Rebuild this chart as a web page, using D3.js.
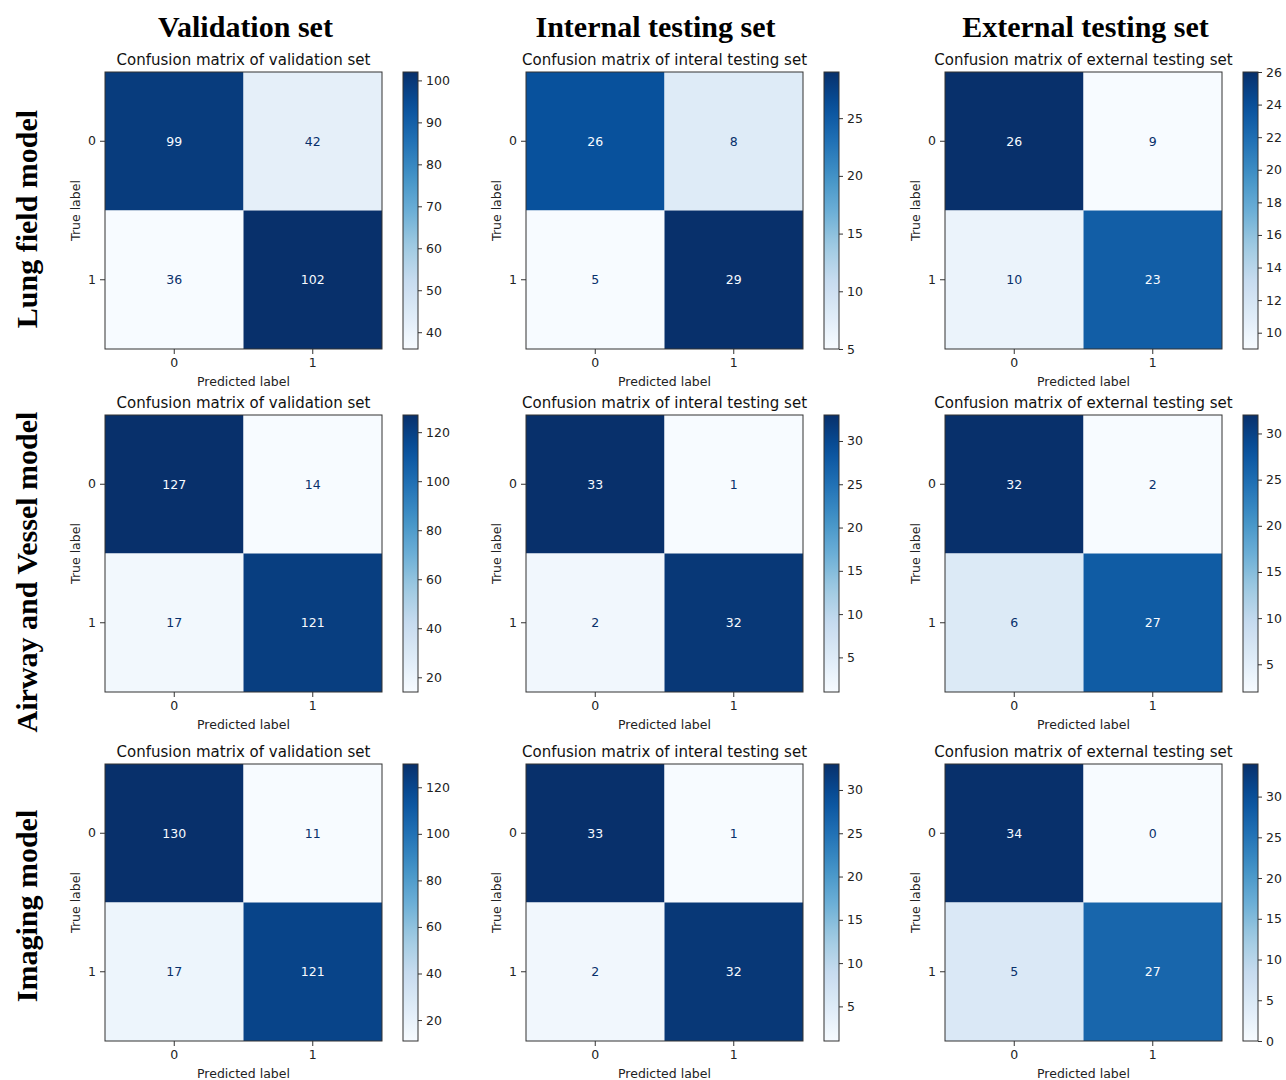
<!DOCTYPE html>
<html>
<head>
<meta charset="utf-8">
<script src="https://cdn.jsdelivr.net/npm/d3@7"></script>
<style>
  body { margin: 0; background: #fff; }
  .tick text { font-family: "DejaVu Sans", sans-serif; font-size: 12.5px; fill: #222; }
</style>
</head>
<body>
<svg id="chart" width="1286" height="1080"></svg>
<script>
// row / column headings
var rowNames = ["Lung field model", "Airway and Vessel model", "Imaging model"];
var colNames = ["Validation set", "Internal testing set", "External testing set"];
var panelTitles = ["Confusion matrix of validation set", "Confusion matrix of interal testing set", "Confusion matrix of external testing set"];
var classLabels = ["0", "1"];

// confusion matrices [true][predicted], one per column
var lungFieldCounts = [[[99, 42], [36, 102]], [[26, 8], [5, 29]], [[26, 9], [10, 23]]];
var airwayVesselCounts = [[[127, 14], [17, 121]], [[33, 1], [2, 32]], [[32, 2], [6, 27]]];
var imagingCounts = [[[130, 11], [17, 121]], [[33, 1], [2, 32]], [[34, 0], [5, 27]]];

// colorbar tick labels
var lungFieldTicks = [[40, 50, 60, 70, 80, 90, 100], [5, 10, 15, 20, 25], [10, 12, 14, 16, 18, 20, 22, 24, 26]];
var airwayVesselTicks = [[20, 40, 60, 80, 100, 120], [5, 10, 15, 20, 25, 30], [5, 10, 15, 20, 25, 30]];
var imagingTicks = [[20, 40, 60, 80, 100, 120], [5, 10, 15, 20, 25, 30], [0, 5, 10, 15, 20, 25, 30]];

var allCounts = [lungFieldCounts, airwayVesselCounts, imagingCounts];
var allTicks = [lungFieldTicks, airwayVesselTicks, imagingTicks];

// layout
var colX = [105, 526, 945],
    rowY = [72, 415, 764],
    size = 277,
    cbGap = 298, cbWidth = 15;

var blues = d3.piecewise(d3.interpolateRgb, d3.schemeBlues[9]);
var svg = d3.select("#chart");
var defs = svg.append("defs");
var sans = "'DejaVu Sans', sans-serif";
var serif = "'Liberation Serif', 'Times New Roman', serif";

// grad for colorbars
var grad = defs.append("linearGradient").attr("id", "bluesGrad")
    .attr("x1", 0).attr("y1", 1).attr("x2", 0).attr("y2", 0);
d3.range(0, 1.0001, 0.05).forEach(function (t) {
  grad.append("stop").attr("offset", t).attr("stop-color", blues(t));
});

colNames.forEach(function (name, c) {
  svg.append("text")
      .attr("x", colX[c] + size / 2 + (c == 1 ? -9 : 2))
      .attr("y", 37)
      .attr("text-anchor", "middle")
      .style("font-family", serif).style("font-weight", "bold").style("font-size", "30px")
      .text(name);
});

rowNames.forEach(function (name, r) {
  var cy = [219, 572, 906][r];
  svg.append("text")
      .attr("transform", "translate(37," + cy + ") rotate(-90)")
      .attr("text-anchor", "middle")
      .style("font-family", serif).style("font-weight", "bold").style("font-size", "30px")
      .text(name);
});

allCounts.forEach(function (rowCounts, r) {
  rowCounts.forEach(function (m, c) {
    var flat = d3.merge(m);
    var lo = d3.min(flat), hi = d3.max(flat);
    var color = d3.scaleSequential(blues).domain([lo, hi]);
    var thresh = (lo + hi) / 2;

    var g = svg.append("g").attr("transform", "translate(" + colX[c] + "," + rowY[r] + ")");
    var x = d3.scaleBand().domain(classLabels).range([0, size]);
    var y = d3.scaleBand().domain(classLabels).range([0, size]);

    var cells = [];
    m.forEach(function (row, i) {
      row.forEach(function (v, j) {
        cells.push({ t: classLabels[i], p: classLabels[j], v: v });
      });
    });

    g.selectAll("rect.cell").data(cells).enter().append("rect")
        .attr("class", "cell")
        .attr("x", function (d) { return x(d.p); })
        .attr("y", function (d) { return y(d.t); })
        .attr("width", x.bandwidth()).attr("height", y.bandwidth())
        .attr("fill", function (d) { return color(d.v); });

    g.selectAll("text.val").data(cells).enter().append("text")
        .attr("class", "val")
        .attr("x", function (d) { return x(d.p) + x.bandwidth() / 2; })
        .attr("y", function (d) { return y(d.t) + y.bandwidth() / 2; })
        .attr("dy", "0.35em")
        .attr("text-anchor", "middle")
        .style("font-family", sans).style("font-size", "12.5px")
        .attr("fill", function (d) { return d.v > thresh ? "#f7fbff" : "#08306b"; })
        .text(function (d) { return d.v; });

    g.append("rect").attr("width", size).attr("height", size)
        .attr("fill", "none").attr("stroke", "#333").attr("stroke-width", 1);

    var xAxis = g.append("g").attr("transform", "translate(0," + size + ")")
        .call(d3.axisBottom(x).tickSize(5).tickPadding(4));
    var yAxis = g.append("g").call(d3.axisLeft(y).tickSize(5).tickPadding(4));
    [xAxis, yAxis].forEach(function (a) {
      a.select(".domain").remove();
      a.selectAll(".tick line").attr("stroke", "#333");
    });

    g.append("text").attr("x", size / 2).attr("y", size + 37)
        .attr("text-anchor", "middle")
        .style("font-family", sans).style("font-size", "12.5px").attr("fill", "#222")
        .text("Predicted label");
    g.append("text").attr("transform", "translate(-25," + size / 2 + ") rotate(-90)")
        .attr("text-anchor", "middle")
        .style("font-family", sans).style("font-size", "12.5px").attr("fill", "#222")
        .text("True label");
    g.append("text").attr("x", size / 2).attr("y", -7)
        .attr("text-anchor", "middle")
        .style("font-family", sans).style("font-size", "15px").attr("fill", "#111")
        .text(panelTitles[c]);

    // colorbar
    var cb = g.append("g").attr("transform", "translate(" + cbGap + ",0)");
    cb.append("rect").attr("width", cbWidth).attr("height", size)
        .attr("fill", "url(#bluesGrad)").attr("stroke", "#333").attr("stroke-width", 1);
    var cbScale = d3.scaleLinear().domain([lo, hi]).range([size, 0]);
    var cbAxis = cb.append("g").attr("transform", "translate(" + cbWidth + ",0)")
        .call(d3.axisRight(cbScale).tickValues(allTicks[r][c]).tickSize(4).tickPadding(4));
    cbAxis.select(".domain").remove();
    cbAxis.selectAll(".tick line").attr("stroke", "#333");
  });
});
</script>
</body>
</html>
